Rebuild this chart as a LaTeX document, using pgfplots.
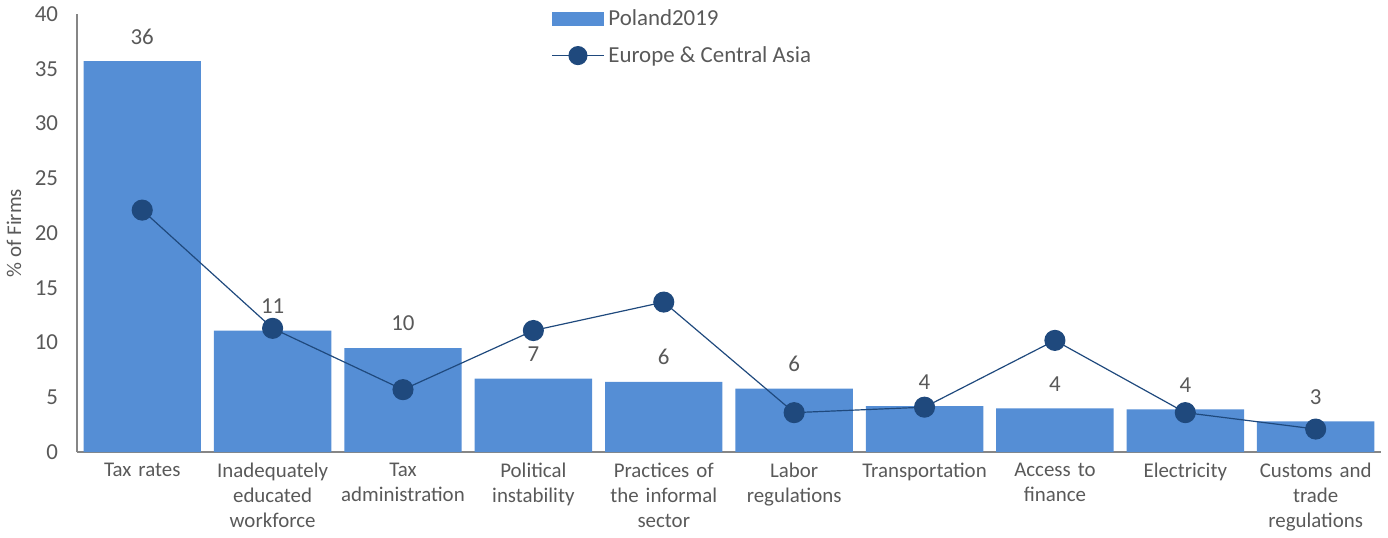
\documentclass[border=0pt]{standalone}
\usepackage{pgfplots}
\pgfplotsset{compat=1.18}
\usepackage{fontspec}
\setmainfont{Carlito}
\definecolor{barblue}{RGB}{85,142,213}
\definecolor{markblue}{RGB}{31,73,125}
\definecolor{txt}{RGB}{89,89,89}
\definecolor{axgray}{RGB}{134,134,134}
\begin{document}
\begin{tikzpicture}
\begin{axis}[
  scale only axis, width=655pt, height=220pt,
  xmin=-0.5, xmax=9.5, ymin=0, ymax=40,
  ytick={0,5,...,40},
  xtick={0,...,9},
  /pgf/number format/assume math mode=true,
  xticklabels={Tax rates,{Inadequately\\educated\\workforce},{Tax\\administration},{Political\\instability},{Practices of\\the informal\\sector},{Labor\\regulations},Transportation,{Access to\\finance},Electricity,{Customs and\\trade\\regulations}},
  x tick label style={align=center, text width=66pt, font=\fontsize{10.5}{12.6}\selectfont, text=txt, yshift=-2pt},
  y tick label style={font=\fontsize{11.5}{13}\selectfont, text=txt, xshift=-6pt},
  major tick length=0pt,
  axis x line*=bottom, axis y line*=left,
  axis line style={-, axgray, line width=0.75pt},
  ylabel={\% of Firms},
  ylabel style={font=\fontsize{10.5}{12.6}\selectfont, text=txt},
  clip=false,
  legend style={at={(0.359,1.03)}, anchor=north west, draw=none, fill=none,
    font=\fontsize{11.5}{13}\selectfont, text=txt, row sep=5pt},
  legend cell align=left,
]
\addplot[ybar, bar width=59pt, bar shift=0pt, fill=barblue, draw=none,
  nodes near coords, point meta=explicit symbolic,
  every node near coord/.append style={font=\fontsize{11.5}{13}\selectfont, text=txt, anchor=south, yshift=5pt},
  legend image code/.code={\fill[barblue] (0pt,-3.5pt) rectangle (26pt,3.5pt);}]
  table[meta=l]{
x y l
0 35.7 36
1 11.1 11
2 9.5 10
3 6.7 7
4 6.4 6
5 5.8 6
6 4.2 4
7 4.0 4
8 3.9 4
9 2.8 3
};
\addlegendentry{Poland2019}
\addplot[markblue, line width=0.6pt, mark=*, mark size=5pt, mark options={fill=markblue, draw=markblue},
  legend image code/.code={\draw[markblue, line width=0.6pt] (0pt,0pt) -- (26pt,0pt); \fill[markblue] (13pt,0pt) circle (4.5pt);}]
  coordinates{(0,22.1) (1,11.3) (2,5.7) (3,11.1) (4,13.7) (5,3.6) (6,4.1) (7,10.2) (8,3.6) (9,2.1)};
\addlegendentry{Europe \& Central Asia}
\end{axis}
\end{tikzpicture}
\end{document}
